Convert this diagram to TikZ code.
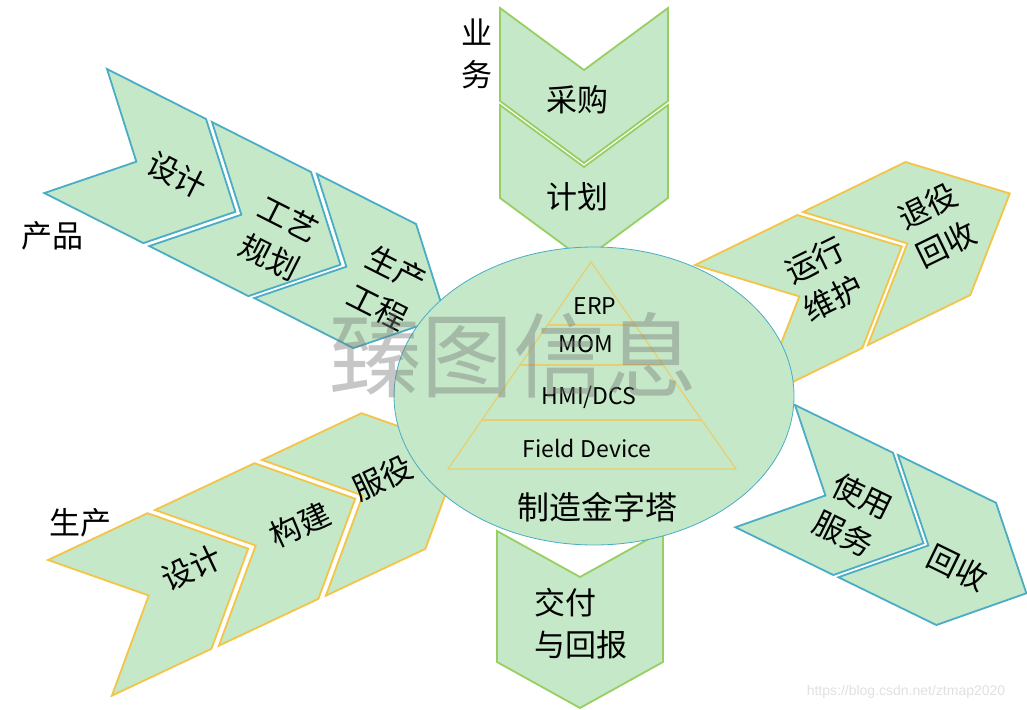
\documentclass[tikz,border=0pt]{standalone}
\usepackage{fontspec}
\setmainfont{Noto Sans CJK SC}
\newfontfamily\urlfont{Liberation Sans}
\usetikzlibrary{shapes.geometric}
\definecolor{fillg}{RGB}{196,232,200}
\definecolor{bblue}{RGB}{75,172,198}
\definecolor{byel}{RGB}{244,196,72}
\definecolor{bgreen}{RGB}{152,206,98}
\definecolor{tri}{RGB}{232,206,112}
\definecolor{wmark}{RGB}{120,120,120}
\tikzset{
  chev/.style={fill=fillg, line width=1.8pt, line join=miter},
  bluechev/.style={chev, draw=bblue},
  yelchev/.style={chev, draw=byel},
  greenchev/.style={chev, draw=bgreen},
  cjk/.style={font=\fontsize{31}{42}\selectfont, align=center, inner sep=0pt},
  pyr/.style={font=\fontsize{23}{26}\selectfont, inner sep=0pt},
}
% #1 x, #2 y (back corner), #3 angle, #4 L, #5 D, #6 W, #7 style
\newcommand{\chevshape}[7]{%
  \draw[#7, shift={(#1,#2)}, rotate=#3] (0,0) -- (#4,0) -- ({#4+#5},{#6/2}) -- (#4,#6) -- (0,#6) -- (#5,{#6/2}) -- cycle;}
\begin{document}
\begin{tikzpicture}[x=1pt,y=-1pt]
\useasboundingbox (0,0) rectangle (1027,709);
% top (business)
\chevshape{668}{8}{-90}{93}{62}{168}{greenchev}
\chevshape{668}{105}{-90}{93}{62}{168}{greenchev}
% bottom
\chevshape{663}{531}{-90}{131}{46}{166}{greenchev}
% top-left (product)
\chevshape{107}{69}{-26.8}{111}{68}{139}{bluechev}
\chevshape{212}{122}{-26.8}{111}{68}{139}{bluechev}
\chevshape{317}{174}{-26.8}{111}{68}{139}{bluechev}
% right-top
\chevshape{695}{265}{26}{114}{80}{148}{yelchev}
\chevshape{803}{212}{26}{114}{80}{148}{yelchev}
% bottom-right
\chevshape{795}{405}{-26}{109}{67}{136}{bluechev}
\chevshape{898}{455}{-26}{109}{67}{136}{bluechev}
% bottom-left (production)
\chevshape{48}{560}{25.2}{110}{76}{150}{yelchev}
\chevshape{155}{510}{25.2}{110}{76}{150}{yelchev}
\chevshape{262}{460}{25.2}{110}{76}{150}{yelchev}

% central ellipse
\node[ellipse, draw=bblue, fill=fillg, line width=0.8pt, inner sep=0pt,
      minimum width=400pt, minimum height=298pt] (core) at (594,396) {};
% pyramid
\coordinate (apex) at (591,262);
\coordinate (bl) at (448,469);
\coordinate (br) at (736,469);
\begin{scope}
  \clip (apex) -- (bl) -- (br) -- cycle;
  \draw[tri, line width=1.2pt] (430,325) -- (760,325);
  \draw[tri, line width=1.2pt] (430,365) -- (760,365);
  \draw[tri, line width=1.2pt] (430,420) -- (760,420);
\end{scope}
\draw[tri, line width=1.2pt, line join=miter] (apex) -- (bl) -- (br) -- cycle;
\node[pyr] (erp) at (595,306) {ERP};
\node[pyr] (mom) at (586,344) {MOM};
\node[pyr] (hmi) at (589,397) {HMI/DCS};
\node[pyr] (fd) at (587,448) {Field Device};
\node[font=\fontsize{32}{36}\selectfont, inner sep=0pt] (mp) at (597,507) {制造金字塔};

% texts
\node[cjk] (yw) at (477,54) {\fontsize{31}{35}\selectfont 业\\务};
\node[cjk] (cg) at (577,100) {采购};
\node[cjk] (jh) at (577,197) {计划};
\node[cjk, align=left] (jf) at (581,624) {交付\\与回报};

\node[cjk] (cp) at (52,236) {产品};
\node[cjk, rotate=-26.8] (sj1) at (177,175) {设计};
\node[cjk, rotate=-26.8] (gy) at (279,238) {工艺\\规划};
\node[cjk, rotate=-26.8] (scgc) at (387,288) {生产\\工程};

\node[cjk, rotate=26] (yx) at (824,279) {运行\\维护};
\node[cjk, rotate=26] (ty) at (937,225) {退役\\回收};

\node[cjk, rotate=-26] (sy) at (853,515) {使用\\服务};
\node[cjk, rotate=-26] (hs) at (958,568) {回收};

\node[cjk] (sc) at (80,523) {生产};
\node[cjk, rotate=25.2] (sj2) at (192,568) {设计};
\node[cjk, rotate=25.2] (gj) at (300,525) {构建};
\node[cjk, rotate=25.2] (fy) at (383,478) {服役};

% watermarks
\node[font=\fontsize{92}{92}\selectfont, text=wmark, text opacity=0.42, inner sep=0pt] (wm) at (513,355) {臻图信息};
\node[font=\urlfont\fontsize{14}{16}\selectfont, text=black!12, inner sep=0pt] (url) at (906,692) {https://blog.csdn.net/ztmap2020};
\end{tikzpicture}
\end{document}
